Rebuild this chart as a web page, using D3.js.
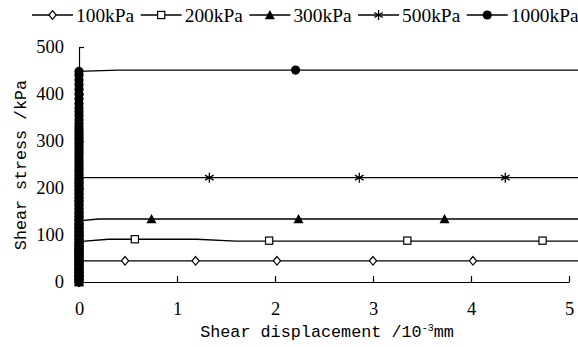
<!DOCTYPE html>
<html>
<head>
<meta charset="utf-8">
<script src="https://cdn.jsdelivr.net/npm/d3@7"></script>
<style>
  body { margin: 0; background: #fff; }
  text { fill: #000; }
</style>
</head>
<body>
<div id="chart"></div>
<script>
// legend / series names
var seriesNames = ["100kPa", "200kPa", "300kPa", "500kPa", "1000kPa"];

// stresses logged while displacement stays ~0 (loading stage)
var ramp100 = [0, 5, 10, 15, 20, 25, 30, 35, 40, 45];
var ramp200 = [0, 6, 12, 18, 24, 30, 36, 42, 48, 54, 60, 66, 72, 78, 86];
var ramp300 = [0, 7, 14, 21, 28, 35, 42, 49, 56, 63, 70, 77, 84, 91, 98, 105, 112, 119, 125, 130];
var ramp500 = [0, 8, 16, 24, 32, 40, 48, 56, 64, 72, 80, 88, 96, 104, 112, 120, 128, 136, 144, 152, 160, 168, 176, 184, 192, 200, 208, 216, 222];
var ramp1000 = [0, 6, 12, 18, 24, 30, 36, 42, 48, 54, 60, 66, 72, 78, 84, 90, 96, 102, 108, 114, 120, 126, 132, 138, 144, 150,
  156, 162, 168, 174, 180, 186, 192, 198, 204, 210, 216, 222, 228, 234, 240, 246, 252, 258, 264, 270, 276, 282, 288, 294, 300,
  306, 312, 318, 324, 330, 337, 345, 354, 362, 370, 380, 390, 400, 410, 420, 430, 440, 448];

// line after loading: displacement (10^-3 mm) and stress (kPa)
var line100X = [0, 5.1],                line100Y = [45, 45];
var line200X = [0, 0.3, 1.2, 1.6, 5.1], line200Y = [86, 91, 91, 87, 87];
var line300X = [0, 0.2, 5.1],           line300Y = [130, 134, 134];
var line500X = [0, 5.1],                line500Y = [222, 222];
var line1000X = [0, 0.4, 5.1],          line1000Y = [448, 451, 451];

// marked readings
var mark100X = [0.47, 1.19, 2.02, 3.0, 4.02],  mark100Y = [45, 45, 45, 45, 45];
var mark200X = [0.57, 1.94, 3.35, 4.73],       mark200Y = [91, 88, 88, 88];
var mark300X = [0.74, 2.24, 3.73],             mark300Y = [134, 134, 134];
var mark500X = [1.33, 2.86, 4.35],             mark500Y = [222, 222, 222];
var mark1000X = [2.21],                        mark1000Y = [451];

var xTicks = [0, 1, 2, 3, 4, 5];
var yTicks = [0, 100, 200, 300, 400, 500];

var series = [
  { name: seriesNames[0], shape: "diamond",  ramp: ramp100,  lx: line100X,  ly: line100Y,  mx: mark100X,  my: mark100Y },
  { name: seriesNames[1], shape: "square",   ramp: ramp200,  lx: line200X,  ly: line200Y,  mx: mark200X,  my: mark200Y },
  { name: seriesNames[2], shape: "triangle", ramp: ramp300,  lx: line300X,  ly: line300Y,  mx: mark300X,  my: mark300Y },
  { name: seriesNames[3], shape: "star",     ramp: ramp500,  lx: line500X,  ly: line500Y,  mx: mark500X,  my: mark500Y },
  { name: seriesNames[4], shape: "circle",   ramp: ramp1000, lx: line1000X, ly: line1000Y, mx: mark1000X, my: mark1000Y }
];

var width = 578, height = 347;
var serif = "'Liberation Serif', 'Times New Roman', serif";
var mono = "'Liberation Mono', monospace";

var svg = d3.select("#chart").append("svg")
  .attr("width", width)
  .attr("height", height);

var x = d3.scaleLinear().domain([0, 5]).range([79, 569]);
var y = d3.scaleLinear().domain([0, 500]).range([282, 47]);

// marker drawing
function drawMarker(g, shape) {
  if (shape == "diamond") {
    g.append("path").attr("d", "M0,-4.3L3.6,0L0,4.3L-3.6,0Z")
      .attr("fill", "#fff").attr("stroke", "#000").attr("stroke-width", 1.2);
  } else if (shape == "square") {
    g.append("rect").attr("x", -3.6).attr("y", -3.6).attr("width", 7.2).attr("height", 7.2)
      .attr("fill", "#fff").attr("stroke", "#000").attr("stroke-width", 1.2);
  } else if (shape == "triangle") {
    g.append("path").attr("d", "M0,-5L5,4.2L-5,4.2Z").attr("fill", "#000");
  } else if (shape == "star") {
    g.append("path").attr("d", "M0,-5V5M-4.3,-2.5L4.3,2.5M-4.3,2.5L4.3,-2.5")
      .attr("stroke", "#000").attr("stroke-width", 1.3).attr("fill", "none");
  } else {
    g.append("circle").attr("r", 4.6).attr("fill", "#000");
  }
}

// axes
var yAxis = d3.axisLeft(y).tickValues(yTicks).tickSizeInner(-5).tickSizeOuter(0).tickPadding(15);
var xAxis = d3.axisBottom(x).tickValues(xTicks).tickFormat(d3.format("d"))
  .tickSizeInner(-6).tickSizeOuter(0).tickPadding(20);

var gy = svg.append("g").attr("transform", "translate(79,0)").call(yAxis);
var gx = svg.append("g").attr("transform", "translate(0,282)").call(xAxis);
[gx, gy].forEach(function (g) {
  g.selectAll("path, line").attr("stroke", "#000").attr("stroke-width", 1.2);
  g.selectAll("text").style("font-size", "18.5px").style("font-family", serif).attr("fill", "#222");
});

// lines
var lineGen = d3.line().x(function (d) { return x(d[0]); }).y(function (d) { return y(d[1]); });

series.forEach(function (s) {
  var pts = s.ramp.map(function (v) { return [0, v]; })
    .concat(s.lx.map(function (v, i) { return [v, s.ly[i]]; }));
  svg.append("path")
    .attr("d", lineGen(pts))
    .attr("fill", "none")
    .attr("stroke", "#000")
    .attr("stroke-width", 1.3);
});

// markers
series.forEach(function (s) {
  var marks = s.ramp.map(function (v) { return [0, v]; })
    .concat(s.mx.map(function (v, i) { return [v, s.my[i]]; }));
  svg.selectAll(null).data(marks).enter().append("g")
    .attr("transform", function (d) { return "translate(" + x(d[0]) + "," + y(d[1]) + ")"; })
    .each(function () { drawMarker(d3.select(this), s.shape); });
});

// axis titles
svg.append("text")
  .attr("transform", "translate(26,165) rotate(-90)")
  .attr("text-anchor", "middle")
  .style("font-family", mono)
  .style("font-size", "16.7px")
  .attr("fill", "#222")
  .text("Shear stress /kPa");

var xt = svg.append("text")
  .attr("x", 327)
  .attr("y", 337)
  .attr("text-anchor", "middle")
  .style("font-family", mono)
  .style("font-size", "16.8px")
  .attr("fill", "#222");
xt.append("tspan").text("Shear displacement /10");
xt.append("tspan").attr("dy", -6).style("font-size", "10px").text("-3");
xt.append("tspan").attr("dy", 6).text("mm");

// legend
var lx = 32;
series.forEach(function (s) {
  var g = svg.append("g").attr("transform", "translate(" + lx + ",15)");
  g.append("line").attr("x1", 0).attr("x2", 41).attr("stroke", "#000").attr("stroke-width", 1.3);
  drawMarker(g.append("g").attr("transform", "translate(20.5,0)"), s.shape);
  var t = g.append("text").attr("x", 44).attr("y", 6.5)
    .style("font-family", serif).style("font-size", "19.4px").attr("fill", "#222").text(s.name);
  lx += 44 + t.node().getComputedTextLength() + 6.5;
});
</script>
</body>
</html>
